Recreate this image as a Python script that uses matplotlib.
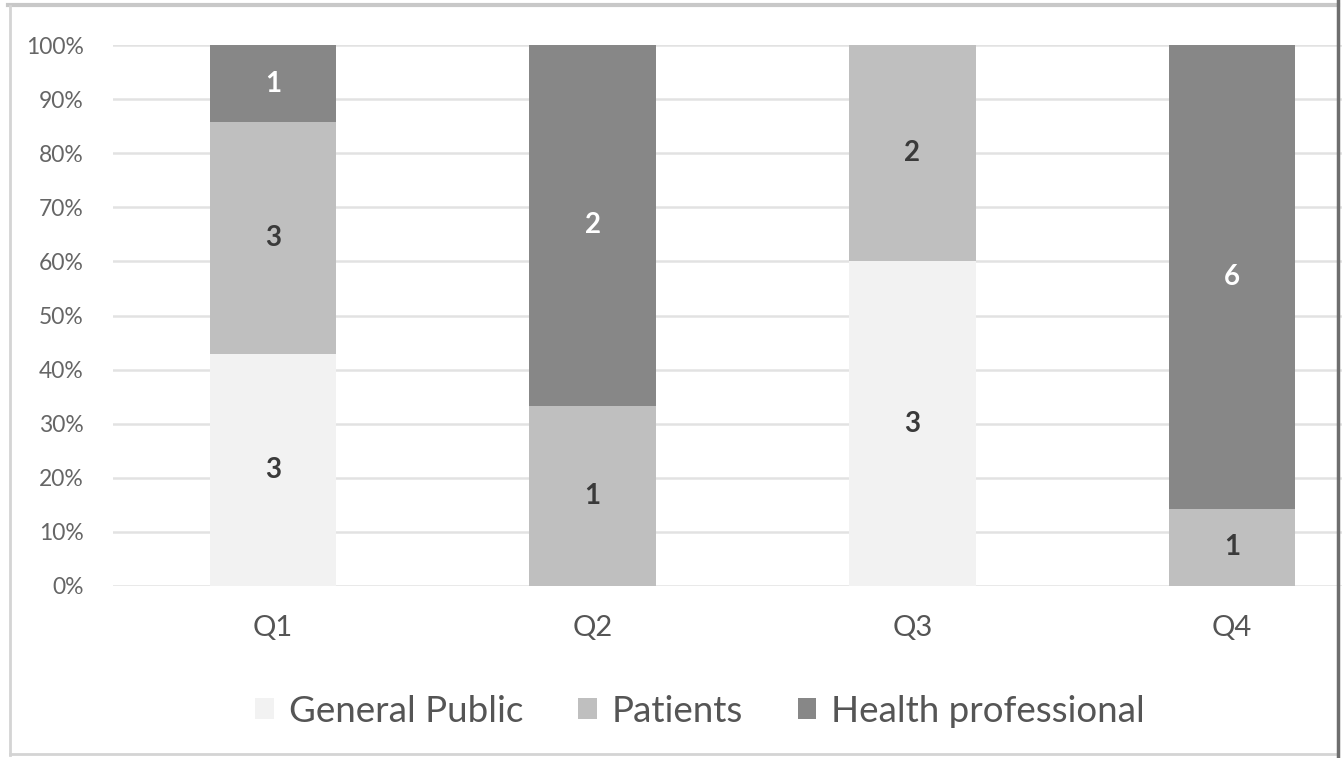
import matplotlib
matplotlib.use("Agg")
import matplotlib.pyplot as plt
from matplotlib.lines import Line2D
from matplotlib.patches import Patch
import numpy as np

plt.rcParams['font.family'] = ['Lato', 'DejaVu Sans']

questions = ["Q1", "Q2", "Q3", "Q4"]
series_names = ["General Public", "Patients", "Health professional"]
general_public = [3, 0, 3, 0]
patients = [3, 1, 2, 1]
health_professional = [1, 2, 0, 6]
yticks = [0, 10, 20, 30, 40, 50, 60, 70, 80, 90, 100]

colors = ["#f2f2f2", "#bfbfbf", "#878787"]
label_colors = ["#3a3a3a", "#3a3a3a", "#ffffff"]

W, H = 1342, 758
fig = plt.figure(figsize=(W / 100, H / 100), dpi=100)
fig.patch.set_facecolor("white")

left_px, right_px = 113, 1392
top_px, bottom_px = 45, 586
ax = fig.add_axes([left_px / W, 1 - bottom_px / H,
                   (right_px - left_px) / W, (bottom_px - top_px) / H])

counts = np.array([general_public, patients, health_professional], dtype=float)
totals = counts.sum(axis=0)
shares = counts / totals * 100

x = np.arange(len(questions))
bottom = np.zeros(len(questions))
for i, name in enumerate(series_names):
    ax.bar(x, shares[i], 0.395, bottom=bottom, color=colors[i],
           label=name, zorder=3, linewidth=0)
    for j in range(len(questions)):
        if counts[i, j] > 0:
            ax.text(x[j], bottom[j] + shares[i, j] / 2, f"{int(counts[i, j])}",
                    ha="center", va="center", fontsize=20, fontweight="bold",
                    color=label_colors[i], zorder=4)
    bottom += shares[i]

ax.set_xlim(-0.5, 3.5)
ax.set_ylim(0, 100)
ax.set_yticks(yticks)
ax.set_yticklabels([f"{v}%" for v in yticks])
ax.set_xticks(x)
ax.set_xticklabels(questions)
ax.yaxis.grid(True, color="#e2e2e2", linewidth=1.8, zorder=0)
ax.set_axisbelow(True)
for s in ax.spines.values():
    s.set_visible(False)
ax.tick_params(axis="y", length=0, pad=21, labelsize=16.5, labelcolor="#666666")
ax.tick_params(axis="x", length=0, pad=21, labelsize=21, labelcolor="#555555")

handles = [Patch(facecolor=c, edgecolor="none") for c in colors]
fig.legend(handles, series_names, loc="center", bbox_to_anchor=(700 / W, 1 - 711 / H),
           ncol=3, frameon=False, fontsize=26.5, handlelength=0.5, handleheight=0.5,
           handletextpad=0.4, columnspacing=1.5, labelcolor="#555555")

# frame around the picture
fig.add_artist(Line2D([8 / W, 1338 / W], [1 - 5 / H, 1 - 5 / H], color="#c8c8c8", lw=3,
                      transform=fig.transFigure))
fig.add_artist(Line2D([10 / W, 10 / W], [1 - 6 / H, 1 - 755 / H], color="#d4d4d4", lw=2,
                      transform=fig.transFigure))
fig.add_artist(Line2D([10 / W, 1338 / W], [1 - 754 / H, 1 - 754 / H], color="#d4d4d4", lw=2,
                      transform=fig.transFigure))
fig.add_artist(Line2D([1338 / W, 1338 / W], [1 - 0 / H, 1 - 758 / H], color="#6e6e6e", lw=2.5,
                      transform=fig.transFigure))

fig.savefig("out.png", dpi=100, facecolor="white")
